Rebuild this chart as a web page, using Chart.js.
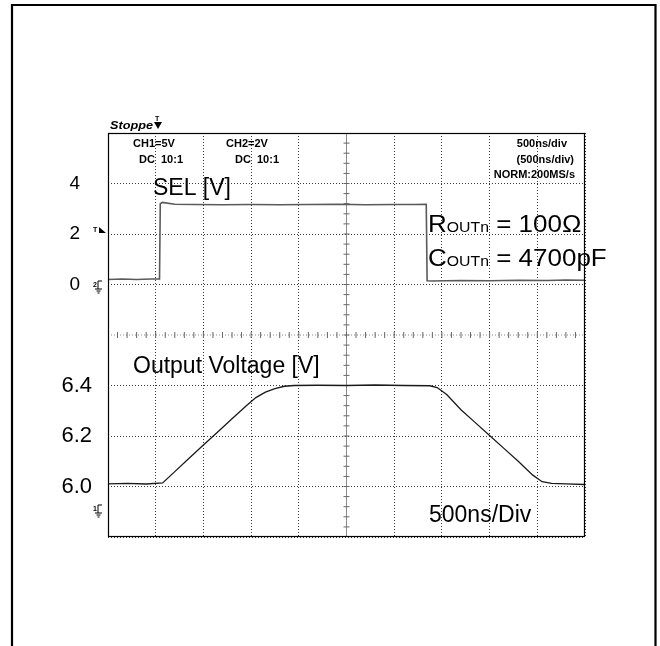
<!DOCTYPE html>
<html>
<head>
<meta charset="utf-8">
<script src="https://cdn.jsdelivr.net/npm/chart.js@4.4.1/dist/chart.umd.min.js"></script>
<style>
  html, body { margin: 0; padding: 0; background: #fff; }
  canvas { display: block; }
</style>
</head>
<body>
<canvas id="scopeChart" width="660" height="646"></canvas>
<script>
// ====== Datos: tiempo en ns, tensión en V ======
const selTime  = [0, 150, 300, 450, 540, 548, 570, 700, 900, 1200, 1500, 1800, 2100, 2400, 2700, 3000, 3200, 3336, 3345, 3400, 3700, 4000, 4300, 4600, 4800, 5000];
const selVolts = [0.2, 0.22, 0.2, 0.22, 0.22, 3.2, 3.25, 3.18, 3.17, 3.16, 3.17, 3.16, 3.17, 3.18, 3.16, 3.17, 3.17, 3.18, 0.15, 0.14, 0.16, 0.15, 0.17, 0.16, 0.18, 0.17];

const outTime  = [0, 200, 400, 573, 700, 850, 1000, 1150, 1300, 1450, 1550, 1650, 1750, 1850, 1950, 2200, 2500, 2800, 3100, 3375, 3450, 3550, 3700, 3850, 4000, 4150, 4300, 4450, 4550, 4650, 4800, 5000];
const outVolts = [6.01, 6.012, 6.01, 6.014, 6.059, 6.112, 6.164, 6.216, 6.268, 6.32, 6.352, 6.374, 6.388, 6.397, 6.4, 6.401, 6.4, 6.402, 6.4, 6.399, 6.392, 6.364, 6.304, 6.253, 6.202, 6.151, 6.1, 6.046, 6.019, 6.012, 6.01, 6.008];

const selTicks = [0, 2, 4];
const outTicks = [6.0, 6.2, 6.4];

const FONT = '"Liberation Sans", Arial, sans-serif';
const GRID = '#3a3a3a';

// ====== Decoración del osciloscopio ======
const scopeDecor = {
  id: 'scopeDecor',
  beforeDatasetsDraw(chart) {
    const {ctx, chartArea: a, scales} = chart;
    const cx = scales.x.getPixelForValue(2500);
    const cy = scales.ySel.bottom;
    ctx.save();
    ctx.strokeStyle = '#8a8a8a';
    ctx.lineWidth = 1;
    ctx.beginPath();
    ctx.moveTo(cx, a.top); ctx.lineTo(cx, a.bottom);
    ctx.stroke();
    ctx.setLineDash([1, 2]);
    ctx.beginPath();
    ctx.moveTo(a.left, cy); ctx.lineTo(a.right, cy);
    ctx.stroke();
    ctx.setLineDash([]);
    ctx.strokeStyle = '#666';
    ctx.beginPath();
    for (let t = 100; t < 5000; t += 100) {
      const px = scales.x.getPixelForValue(t);
      ctx.moveTo(px, cy - 3); ctx.lineTo(px, cy + 3);
    }
    const step = (a.bottom - a.top) / 40;
    for (let i = 1; i < 40; i++) {
      const py = a.top + i * step;
      ctx.moveTo(cx - 3, py); ctx.lineTo(cx + 3, py);
    }
    ctx.stroke();
    ctx.restore();
  },
  afterDraw(chart) {
    const {ctx, chartArea: a} = chart;
    ctx.save();
    // marcos
    ctx.strokeStyle = '#000';
    ctx.lineWidth = 1.2;
    ctx.strokeRect(a.left + 0.5, a.top + 0.5, a.right - a.left - 1, a.bottom - a.top - 1);
    ctx.lineWidth = 2.2;
    ctx.beginPath();
    ctx.moveTo(12, 646); ctx.lineTo(12, 5); ctx.lineTo(655.5, 5); ctx.lineTo(655.5, 646);
    ctx.stroke();

    ctx.fillStyle = '#000';
    ctx.textBaseline = 'alphabetic';
    // cabecera del osciloscopio
    ctx.textAlign = 'left';
    ctx.save();
    ctx.translate(110, 129);
    ctx.scale(1.27, 1);
    ctx.font = 'italic bold 10px ' + FONT;
    ctx.fillText('Stoppe', 0, 0);
    ctx.restore();
    ctx.font = 'bold 7px ' + FONT;
    ctx.fillText('T', 155, 121);
    ctx.beginPath();
    ctx.moveTo(154, 122); ctx.lineTo(162, 122); ctx.lineTo(158, 129); ctx.closePath();
    ctx.fill();

    ctx.font = 'bold 11px ' + FONT;
    ctx.fillText('CH1=5V', 133, 147);
    ctx.fillText('DC  10:1', 139, 163);
    ctx.fillText('CH2=2V', 226, 147);
    ctx.fillText('DC  10:1', 235, 163);
    ctx.textAlign = 'right';
    ctx.fillText('500ns/div', 567, 147);
    ctx.fillText('(500ns/div)', 574, 163);
    ctx.fillText('NORM:200MS/s', 575, 178);

    // marcadores de canal
    ctx.textAlign = 'left';
    ctx.font = 'bold 7px ' + FONT;
    ctx.fillText('T', 93, 232);
    ctx.beginPath();
    ctx.moveTo(99, 227); ctx.lineTo(106, 233); ctx.lineTo(99, 233); ctx.closePath();
    ctx.fill();
    const ground = (label, x, y) => {
      ctx.fillText(label, x, y);
      ctx.lineWidth = 1;
      ctx.beginPath();
      ctx.moveTo(x + 9, y - 6); ctx.lineTo(x + 5, y - 6); ctx.lineTo(x + 5, y + 2);
      ctx.moveTo(x + 2, y + 2); ctx.lineTo(x + 9, y + 2);
      ctx.moveTo(x + 3.5, y + 4); ctx.lineTo(x + 7.5, y + 4);
      ctx.moveTo(x + 4.5, y + 6); ctx.lineTo(x + 6.5, y + 6);
      ctx.stroke();
    };
    ground('2', 93, 287);
    ground('1', 93, 511);

    // anotaciones
    ctx.font = '23px ' + FONT;
    ctx.fillText('SEL [V]', 153, 195);
    ctx.fillText('Output Voltage [V]', 133, 373);
    ctx.fillText('500ns/Div', 429, 522);

    const subLabel = (main, rest, x, y) => {
      ctx.save();
      ctx.translate(x, y);
      ctx.scale(1.13, 1);
      ctx.font = '23px ' + FONT;
      ctx.fillText(main, 0, 0);
      let w = ctx.measureText(main).width;
      ctx.font = '14px ' + FONT;
      ctx.fillText('OUTn', w, 0);
      w += ctx.measureText('OUTn').width;
      ctx.font = '23px ' + FONT;
      ctx.fillText(rest, w, 0);
      ctx.restore();
    };
    subLabel('R', ' = 100Ω', 428, 232);
    subLabel('C', ' = 4700pF', 428, 266);
    ctx.restore();
  }
};

// ====== Gráfica ======
const ctxScope = document.getElementById('scopeChart').getContext('2d');
new Chart(ctxScope, {
  type: 'line',
  data: {
    datasets: [
      {
        label: 'SEL',
        yAxisID: 'ySel',
        data: selTime.map((t, i) => ({x: t, y: selVolts[i]})),
        borderColor: '#5a5a5a',
        borderWidth: 1.6,
        pointRadius: 0,
        tension: 0
      },
      {
        label: 'Output Voltage',
        yAxisID: 'yOut',
        data: outTime.map((t, i) => ({x: t, y: outVolts[i]})),
        borderColor: '#1a1a1a',
        borderWidth: 1.3,
        pointRadius: 0,
        tension: 0
      }
    ]
  },
  options: {
    responsive: false,
    animation: false,
    devicePixelRatio: 1,
    layout: { padding: { left: 0, top: 133, right: 75, bottom: 109 } },
    plugins: { legend: { display: false }, tooltip: { enabled: false } },
    scales: {
      x: {
        type: 'linear', min: 0, max: 5000,
        ticks: { stepSize: 500, display: false, autoSkip: false },
        grid: { drawTicks: false, color: c => c.tick && c.tick.value === 2500 ? 'rgba(0,0,0,0)' : GRID },
        border: { display: false, dash: [1, 2] },
        afterFit: s => { s.height = 0; }
      },
      ySel: {
        type: 'linear', position: 'left', stack: 'scope', stackWeight: 1, weight: 1,
        min: -2, max: 6,
        ticks: {
          stepSize: 2, padding: 28, color: '#000', autoSkip: false,
          font: { family: FONT, size: 19 },
          callback: v => selTicks.includes(v) ? String(v) : ''
        },
        grid: { drawTicks: false, color: c => c.tick && c.tick.value === -2 ? 'rgba(0,0,0,0)' : GRID },
        border: { display: false, dash: [1, 2] },
        afterFit: s => { s.width = 108; }
      },
      yOut: {
        type: 'linear', position: 'left', stack: 'scope', stackWeight: 1, weight: 0,
        min: 5.8, max: 6.6,
        ticks: {
          stepSize: 0.2, padding: 16, color: '#000', autoSkip: false,
          font: { family: FONT, size: 22 },
          callback: v => {
            const s = v.toFixed(1);
            return outTicks.some(t => t.toFixed(1) === s) ? s : '';
          }
        },
        grid: { drawTicks: false, color: c => c.tick && Math.abs(c.tick.value - 6.6) < 1e-6 ? 'rgba(0,0,0,0)' : GRID },
        border: { display: false, dash: [1, 2] },
        afterFit: s => { s.width = 108; }
      }
    }
  },
  plugins: [scopeDecor]
});
</script>
</body>
</html>
